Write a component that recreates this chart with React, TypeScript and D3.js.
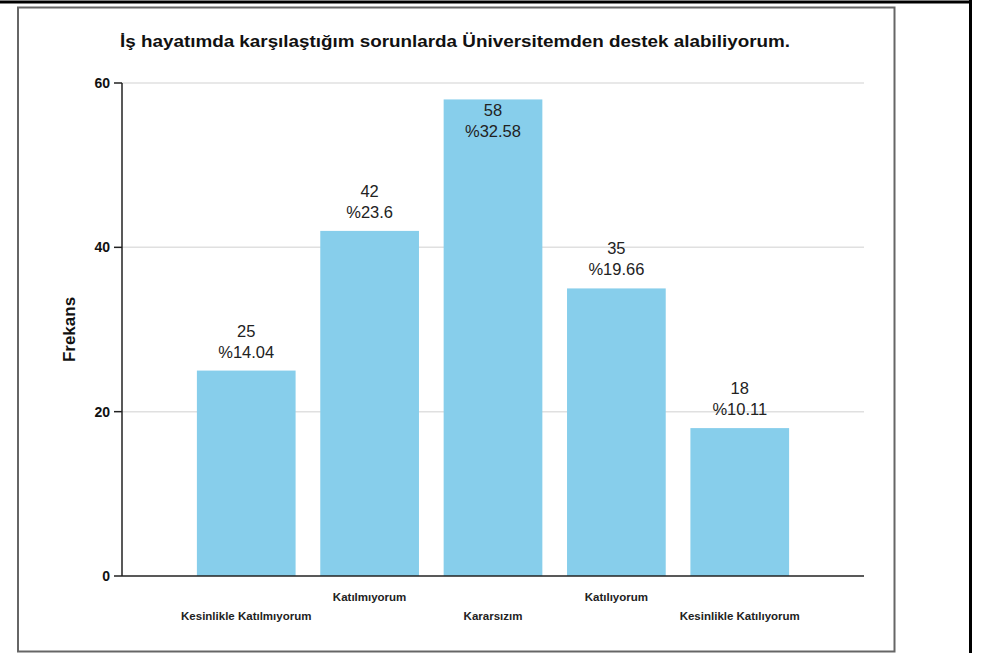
import React from "react";
import * as d3 from "d3";

const categories = [
  "Kesinlikle Katılmıyorum",
  "Katılmıyorum",
  "Kararsızım",
  "Katılıyorum",
  "Kesinlikle Katılıyorum",
];
const counts = [25, 42, 58, 35, 18];
const percents = ["%14.04", "%23.6", "%32.58", "%19.66", "%10.11"];
const yTicks = [0, 20, 40, 60];
const title = "İş hayatımda karşılaştığım sorunlarda Üniversitemden destek alabiliyorum.";
const yLabel = "Frekans";

const W = 997;
const H = 653;
const plotLeft = 122;
const plotRight = 864;
const plotTop = 83;
const plotBottom = 576;
const font = "'Liberation Sans', Arial, sans-serif";

export default function App() {
  const x = d3
    .scaleBand<string>()
    .domain(categories)
    .range([plotLeft, plotRight])
    .paddingInner(0.2)
    .paddingOuter(0.607);
  const y = d3.scaleLinear().domain([0, 60]).range([plotBottom, plotTop]);

  return (
    <svg
      width={W}
      height={H}
      style={{ position: "absolute", left: 0, top: 0, background: "#fff" }}
    >
      <rect x={0} y={0} width={W} height={H} fill="#fff" />
      {/* outer frame lines */}
      <line x1={0} x2={972} y1={2} y2={2} stroke="#000" strokeWidth={3} />
      <line x1={970.5} x2={970.5} y1={0} y2={H} stroke="#000" strokeWidth={3} />
      {/* inner box */}
      <rect
        x={18}
        y={7.5}
        width={876.5}
        height={644}
        fill="#fff"
        stroke="#666"
        strokeWidth={2}
      />
      <text
        x={455}
        y={47}
        textAnchor="middle"
        fontFamily={font}
        fontWeight="bold"
        fontSize={17}
        textLength={670}
        lengthAdjust="spacingAndGlyphs"
        fill="#111"
      >
        {title}
      </text>
      {/* grid */}
      {yTicks
        .filter((t) => t > 0)
        .map((t) => (
          <line
            key={"g" + t}
            x1={plotLeft}
            x2={plotRight}
            y1={y(t)}
            y2={y(t)}
            stroke="#e0e0e0"
            strokeWidth={1.5}
          />
        ))}
      {/* bars */}
      {categories.map((c, i) => (
        <rect
          key={c}
          x={x(c)}
          y={y(counts[i])}
          width={x.bandwidth()}
          height={plotBottom - y(counts[i])}
          fill="#87CEEB"
        />
      ))}
      {/* bar labels */}
      {categories.map((c, i) => {
        const top = y(counts[i]);
        const inside = top - 40 < plotTop;
        const b1 = inside ? top + 17 : top - 34;
        const b2 = inside ? top + 38 : top - 13;
        const cx = (x(c) as number) + x.bandwidth() / 2;
        return (
          <g key={"l" + c} fontFamily={font} fontSize={16.5} fill="#222" textAnchor="middle">
            <text x={cx} y={b1}>
              {counts[i]}
            </text>
            <text x={cx} y={b2}>
              {percents[i]}
            </text>
          </g>
        );
      })}
      {/* axes */}
      <line x1={plotLeft} x2={plotLeft} y1={plotTop} y2={plotBottom} stroke="#222" strokeWidth={1.5} />
      <line x1={plotLeft} x2={plotRight} y1={plotBottom} y2={plotBottom} stroke="#222" strokeWidth={1.5} />
      {yTicks.map((t) => (
        <g key={"t" + t}>
          <line x1={plotLeft - 8} x2={plotLeft} y1={y(t)} y2={y(t)} stroke="#222" strokeWidth={1.5} />
          <text
            x={plotLeft - 12}
            y={y(t) + 5}
            textAnchor="end"
            fontFamily={font}
            fontWeight="bold"
            fontSize={14}
            fill="#111"
          >
            {t}
          </text>
        </g>
      ))}
      {categories.map((c, i) => (
        <text
          key={"x" + c}
          x={(x(c) as number) + x.bandwidth() / 2}
          y={i % 2 === 0 ? 620 : 601}
          textAnchor="middle"
          fontFamily={font}
          fontWeight="bold"
          fontSize={11.5}
          fill="#222"
        >
          {c}
        </text>
      ))}
      <text
        transform={`translate(75,${(plotTop + plotBottom) / 2}) rotate(-90)`}
        textAnchor="middle"
        fontFamily={font}
        fontWeight="bold"
        fontSize={17}
        fill="#111"
      >
        {yLabel}
      </text>
    </svg>
  );
}
